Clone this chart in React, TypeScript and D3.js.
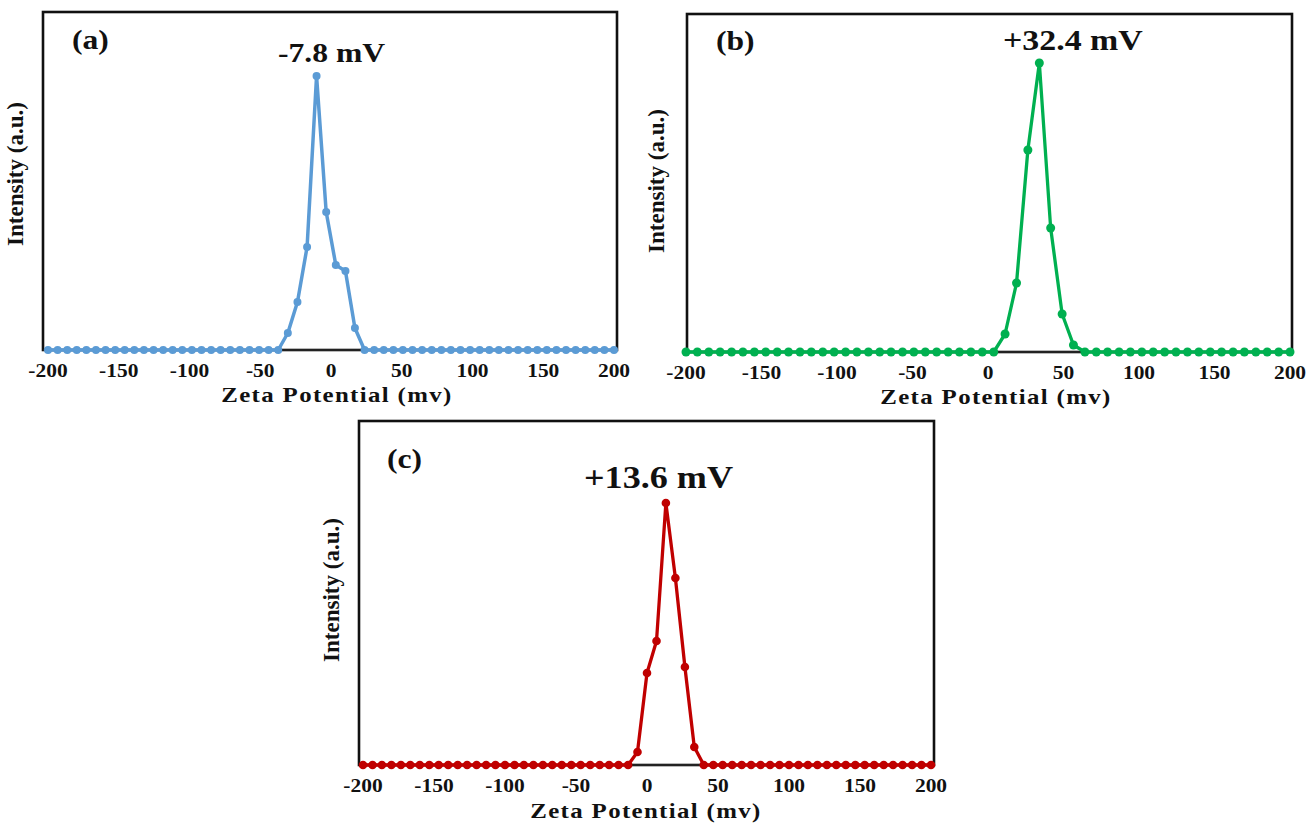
import React from "react";
import * as d3 from "d3";

// ---------- DATA ----------
// Panel (a): zeta potential bins (mV) and intensity (a.u.)
const zetaA: number[] = [
  -200, -193.2, -186.4, -179.7, -172.9, -166.1, -159.3, -152.5, -145.8, -139.0,
  -132.2, -125.4, -118.6, -111.9, -105.1, -98.3, -91.5, -84.7, -78.0, -71.2,
  -64.4, -57.6, -50.8, -44.1, -37.3, -30.5, -23.7, -16.9, -10.2, -3.4,
  3.4, 10.2, 16.9, 23.7, 30.5, 37.3, 44.1, 50.8, 57.6, 64.4,
  71.2, 78.0, 84.7, 91.5, 98.3, 105.1, 111.9, 118.6, 125.4, 132.2,
  139.0, 145.8, 152.5, 159.3, 166.1, 172.9, 179.7, 186.4, 193.2, 200,
];
const intensityA: number[] = [
  0, 0, 0, 0, 0, 0, 0, 0, 0, 0,
  0, 0, 0, 0, 0, 0, 0, 0, 0, 0,
  0, 0, 0, 0, 0, 17, 48, 103, 274, 138,
  85, 79, 22, 0, 0, 0, 0, 0, 0, 0,
  0, 0, 0, 0, 0, 0, 0, 0, 0, 0,
  0, 0, 0, 0, 0, 0, 0, 0, 0, 0,
];

// Panel (b)
const zetaB: number[] = [
  -200, -192.5, -184.9, -177.4, -169.8, -162.3, -154.7, -147.2, -139.6, -132.1,
  -124.5, -117.0, -109.4, -101.9, -94.3, -86.8, -79.2, -71.7, -64.2, -56.6,
  -49.1, -41.5, -34.0, -26.4, -18.9, -11.3, -3.8, 3.8, 11.3, 18.9,
  26.4, 34.0, 41.5, 49.1, 56.6, 64.2, 71.7, 79.2, 86.8, 94.3,
  101.9, 109.4, 117.0, 124.5, 132.1, 139.6, 147.2, 154.7, 162.3, 169.8,
  177.4, 184.9, 192.5, 200,
];
const intensityB: number[] = [
  0, 0, 0, 0, 0, 0, 0, 0, 0, 0,
  0, 0, 0, 0, 0, 0, 0, 0, 0, 0,
  0, 0, 0, 0, 0, 0, 0, 0, 18, 69,
  202, 289, 124, 38, 7, 0, 0, 0, 0, 0,
  0, 0, 0, 0, 0, 0, 0, 0, 0, 0,
  0, 0, 0, 0,
];

// Panel (c)
const zetaC: number[] = [
  -200, -193.3, -186.7, -180, -173.3, -166.7, -160, -153.3, -146.7, -140,
  -133.3, -126.7, -120, -113.3, -106.7, -100, -93.3, -86.7, -80, -73.3,
  -66.7, -60, -53.3, -46.7, -40, -33.3, -26.7, -20, -13.3, -6.7,
  0, 6.7, 13.3, 20, 26.7, 33.3, 40, 46.7, 53.3, 60,
  66.7, 73.3, 80, 86.7, 93.3, 100, 106.7, 113.3, 120, 126.7,
  133.3, 140, 146.7, 153.3, 160, 166.7, 173.3, 180, 186.7, 193.3,
  200,
];
const intensityC: number[] = [
  0, 0, 0, 0, 0, 0, 0, 0, 0, 0,
  0, 0, 0, 0, 0, 0, 0, 0, 0, 0,
  0, 0, 0, 0, 0, 0, 0, 0, 0, 13,
  92, 124, 262, 187, 98, 18, 0, 0, 0, 0,
  0, 0, 0, 0, 0, 0, 0, 0, 0, 0,
  0, 0, 0, 0, 0, 0, 0, 0, 0, 0,
  0,
];

const xTicks: number[] = [-200, -150, -100, -50, 0, 50, 100, 150, 200];
const xTitle = "Zeta Potential (mv)";
const yTitle = "Intensity (a.u.)";

// ---------- LAYOUT ----------
const FONT = "'Liberation Serif', 'Times New Roman', serif";

type PanelCfg = {
  xs: number[];
  ys: number[];
  color: string;
  r: number;
  sw: number;
  letter: string;
  peak: string;
  frame: [number, number, number, number]; // left, top, right, bottom
  xr: [number, number];
  letterPos: [number, number, number];
  peakPos: [number, number, number];
  xTitlePos: [number, number];
  yTitlePos: [number, number];
};

const panels: PanelCfg[] = [
  {
    xs: zetaA, ys: intensityA, color: "#5B9BD5", r: 4, sw: 3.5,
    letter: "(a)", peak: "-7.8 mV",
    frame: [43, 12, 617, 350], xr: [48, 614],
    letterPos: [72, 49, 28], peakPos: [278, 62, 28],
    xTitlePos: [337, 402], yTitlePos: [23, 174],
  },
  {
    xs: zetaB, ys: intensityB, color: "#00B050", r: 4.5, sw: 3.3,
    letter: "(b)", peak: "+32.4 mV",
    frame: [687, 14, 1292, 352], xr: [686, 1290],
    letterPos: [716, 50, 28], peakPos: [1003, 50, 30],
    xTitlePos: [996, 404], yTitlePos: [664, 181],
  },
  {
    xs: zetaC, ys: intensityC, color: "#C00000", r: 4.3, sw: 3.3,
    letter: "(c)", peak: "+13.6 mV",
    frame: [359, 421, 934, 765], xr: [363, 931],
    letterPos: [387, 468, 28], peakPos: [584, 488, 32],
    xTitlePos: [646, 818], yTitlePos: [339, 590],
  },
];

const STRETCH = 1.13;

function SText(props: {
  x: number; y: number; size: number; anchor?: string; children: React.ReactNode;
  rotate?: number; sx?: number; spacing?: number;
}) {
  const { x, y, size, anchor = "start", children, rotate = 0, sx = STRETCH, spacing = 0 } = props;
  return (
    <g transform={`translate(${x},${y}) rotate(${rotate}) scale(${sx},1)`}>
      <text
        x={0}
        y={0}
        fontFamily={FONT}
        fontWeight="bold"
        fontSize={size}
        textAnchor={anchor}
        letterSpacing={spacing}
        fill="#111"
      >
        {children}
      </text>
    </g>
  );
}

function Panel({ p }: { p: PanelCfg }) {
  const [fl, ft, fr, fb] = p.frame;
  const x = d3.scaleLinear().domain([-200, 200]).range(p.xr);
  const y = d3.scaleLinear().domain([0, fb - ft]).range([fb, ft]);
  const pts = p.xs.map((v, i) => [v, p.ys[i]] as [number, number]);
  const line = d3
    .line<[number, number]>()
    .x((d) => x(d[0]))
    .y((d) => y(d[1]));
  return (
    <g>
      <rect x={fl} y={ft} width={fr - fl} height={fb - ft} fill="none" stroke="#111" strokeWidth={2.6} />
      <line x1={fl} x2={fr} y1={fb} y2={fb} stroke="#222" strokeWidth={2.2} />
      <path d={line(pts) || ""} fill="none" stroke={p.color} strokeWidth={p.sw} strokeLinejoin="round" />
      {pts.map((d, i) => (
        <circle key={i} cx={x(d[0])} cy={y(d[1])} r={p.r} fill={p.color} />
      ))}
      {xTicks.map((t) => (
        <SText key={t} x={x(t)} y={fb + 27} size={19} anchor="middle">
          {t}
        </SText>
      ))}
      <SText x={p.xTitlePos[0]} y={p.xTitlePos[1]} size={22} anchor="middle" spacing={1.2}>
        {xTitle}
      </SText>
      <SText x={p.yTitlePos[0]} y={p.yTitlePos[1]} size={23} anchor="middle" rotate={-90} sx={1}>
        {yTitle}
      </SText>
      <SText x={p.letterPos[0]} y={p.letterPos[1]} size={p.letterPos[2]}>
        {p.letter}
      </SText>
      <SText x={p.peakPos[0]} y={p.peakPos[1]} size={p.peakPos[2]}>
        {p.peak}
      </SText>
    </g>
  );
}

export default function App() {
  return (
    <svg
      width={1310}
      height={828}
      style={{ position: "absolute", left: 0, top: 0, background: "#fff" }}
    >
      <rect x={0} y={0} width={1310} height={828} fill="#fff" />
      {panels.map((p, i) => (
        <Panel key={i} p={p} />
      ))}
    </svg>
  );
}
